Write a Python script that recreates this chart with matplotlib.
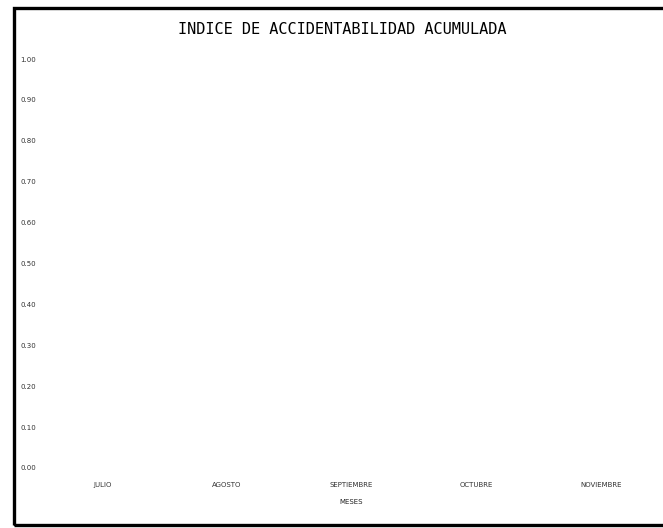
import matplotlib.pyplot as plt
from matplotlib.patches import Rectangle

meses = ["JULIO", "AGOSTO", "SEPTIEMBRE", "OCTUBRE", "NOVIEMBRE"]
indice = [0.0, 0.0, 0.0, 0.0, 0.0]
y_ticks = [0.0, 0.1, 0.2, 0.3, 0.4, 0.5, 0.6, 0.7, 0.8, 0.9, 1.0]

W, H = 663, 528
fig = plt.figure(figsize=(W / 100, H / 100), dpi=100)

# plot area in pixels: left 40, right 663, top 59, bottom 468
ax = fig.add_axes([40 / W, (H - 468) / H, (663 - 40) / W, (468 - 59) / H])
ax.bar(range(len(meses)), indice, width=0.5, color="#555555")

ax.set_xlim(-0.5, 4.5)
ax.set_ylim(0, 1)
ax.set_yticks(y_ticks)
ax.set_yticklabels([f"{v:.2f}" for v in y_ticks], fontsize=5, color="#333333")
ax.set_xticks(range(len(meses)))
ax.set_xticklabels(meses, fontsize=5, color="#333333")
ax.tick_params(axis="y", length=0, pad=3)
ax.tick_params(axis="x", length=0, pad=10)
ax.set_xlabel("MESES", fontsize=5, color="#222222", labelpad=8)
for s in ax.spines.values():
    s.set_visible(False)

fig.text(342 / W, 1 - 30 / H, "INDICE DE ACCIDENTABILIDAD ACUMULADA",
         family="DejaVu Sans Mono", fontsize=11, ha="center", va="center",
         color="black")

# outer frame (right side runs off the page)
fig.patches.append(Rectangle((14 / W, (H - 525) / H), 700 / W, (525 - 8) / H,
                             transform=fig.transFigure, fill=False,
                             edgecolor="black", linewidth=2.4))

fig.savefig("out.png", dpi=100, facecolor="white")
